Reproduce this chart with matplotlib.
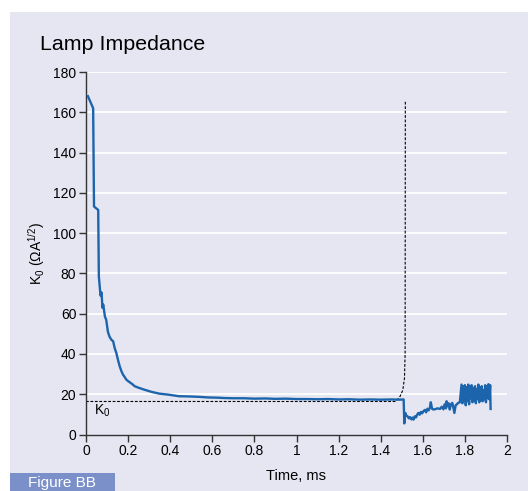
import matplotlib.pyplot as plt
from matplotlib.patches import Rectangle

plt.rcParams['font.family'] = ['Liberation Sans', 'DejaVu Sans']
plt.rcParams['mathtext.fontset'] = 'custom'
plt.rcParams['mathtext.rm'] = 'Liberation Sans'
plt.rcParams['mathtext.it'] = 'Liberation Sans'

# данные кривой (время, мс / K0)
t_main = [0.009, 0.034, 0.038, 0.058, 0.061, 0.069, 0.074, 0.078, 0.082, 0.090,
          0.096, 0.104, 0.112, 0.121, 0.129, 0.136, 0.144, 0.152, 0.160, 0.168,
          0.176, 0.184, 0.191, 0.200, 0.207, 0.220, 0.231, 0.250, 0.270, 0.285,
          0.310, 0.348, 0.390, 0.442, 0.490, 0.536, 0.580, 0.620, 0.660, 0.700,
          0.750, 0.800, 0.850, 0.900, 0.950, 1.000, 1.050, 1.100, 1.150, 1.200,
          1.250, 1.300, 1.350, 1.400, 1.450, 1.490, 1.506, 1.509,
          1.512, 1.517, 1.521, 1.528, 1.534, 1.540, 1.546, 1.552, 1.556, 1.562,
          1.568, 1.574, 1.579, 1.585, 1.591, 1.597, 1.603, 1.610, 1.616, 1.622,
          1.628, 1.634, 1.638, 1.644, 1.650, 1.660, 1.670, 1.682, 1.690, 1.698,
          1.704, 1.710, 1.713, 1.718, 1.723, 1.728, 1.734, 1.740, 1.744, 1.750,
          1.756, 1.762, 1.768, 1.776, 1.784, 1.788, 1.792, 1.796, 1.800, 1.804,
          1.808, 1.812, 1.816, 1.820, 1.824, 1.828, 1.832, 1.836, 1.840, 1.844,
          1.848, 1.852, 1.856, 1.860, 1.864, 1.868, 1.872, 1.876, 1.880, 1.884,
          1.888, 1.892, 1.896, 1.900, 1.904, 1.908, 1.912, 1.916, 1.920, 1.922]
k_main = [168.0, 162.0, 113.2, 111.5, 78.5, 69.0, 70.5, 63.0, 64.5, 58.5,
          57.0, 51.0, 48.5, 47.0, 46.3, 43.0, 40.5, 37.0, 33.9, 31.5,
          29.7, 28.5, 27.3, 26.5, 26.0, 25.0, 24.0, 23.2, 22.5, 22.0,
          21.2, 20.3, 19.8, 19.0, 18.9, 18.7, 18.4, 18.3, 18.1, 18.0,
          18.0, 17.8, 17.9, 17.7, 17.8, 17.6, 17.6, 17.5, 17.6, 17.4,
          17.5, 17.3, 17.4, 17.3, 17.4, 17.3, 17.4, 17.4,
          5.5, 10.7, 9.5, 9.0, 8.0, 8.6, 7.5, 8.4, 7.4, 9.0,
          8.5, 10.0, 10.7, 9.8, 11.2, 10.5, 11.6, 12.2, 11.0, 12.8,
          12.0, 13.5, 16.0, 12.8, 12.4, 12.6, 13.0, 12.7, 13.8, 12.5,
          15.0, 13.0, 16.5, 14.0, 15.5, 12.4, 15.0, 15.7, 14.0, 10.7,
          14.5, 15.0, 15.7, 16.0, 24.8, 15.5, 24.0, 17.0, 24.5, 14.5,
          23.5, 16.5, 24.8, 15.0, 24.0, 18.0, 24.5, 16.0, 23.0, 17.0,
          24.0, 15.5, 22.5, 17.5, 24.8, 16.0, 23.5, 17.0, 24.0, 16.5,
          22.0, 17.5, 24.5, 16.0, 24.0, 18.0, 25.0, 17.5, 24.5, 12.7]

# пунктир K0
t_k0 = [0.0, 1.470, 1.490, 1.505, 1.513, 1.516, 1.517]
k_k0 = [16.4, 16.4, 18.5, 22.0, 28.0, 40.0, 165.5]

fig = plt.figure(figsize=(5.28, 4.91), dpi=100)
fig.patch.set_facecolor('white')
fig.patches.append(Rectangle((10 / 528, 0), 1 - 10 / 528, 1 - 12 / 491,
                             transform=fig.transFigure, facecolor='#e6e6f2',
                             edgecolor='none', zorder=-10))
fig.patches.append(Rectangle((10 / 528, 0), 105 / 528, 18 / 491,
                             transform=fig.transFigure, facecolor='#7b90c8',
                             edgecolor='none', zorder=-9))
fig.text(62 / 528, 8 / 491, 'Figure BB', color='white', fontsize=11,
         ha='center', va='center')

ax = fig.add_axes([86 / 528, 1 - 434.5 / 491, (507 - 86) / 528, (434.5 - 72) / 491])
ax.set_facecolor('none')
ax.set_zorder(2)

for v in range(20, 181, 20):
    ax.axhline(v, color='white', lw=1.3, zorder=1)

ax.plot(t_k0, k_k0, color='black', lw=0.8, dashes=(2.5, 1.5), zorder=2)
ax.plot(t_main, k_main, color='#1c64ac', lw=1.7, zorder=3)

ax.set_xlim(0, 2)
ax.set_ylim(0, 180)
ax.set_xticks([0, 0.2, 0.4, 0.6, 0.8, 1, 1.2, 1.4, 1.6, 1.8, 2])
ax.set_xticklabels(['0', '0.2', '0.4', '0.6', '0.8', '1', '1.2', '1.4', '1.6', '1.8', '2'])
ax.set_yticks(range(0, 181, 20))

for s in ['top', 'right']:
    ax.spines[s].set_visible(False)
for s in ['left', 'bottom']:
    ax.spines[s].set_color('#333333')
    ax.spines[s].set_linewidth(1.0)
ax.tick_params(direction='out', length=5, width=1, color='#333333',
               labelsize=10, pad=2)

ax.text(0.037, 12, 'K$_0$', fontsize=10, ha='left', va='center')
ax.set_xlabel('Time, ms', fontsize=10.5, labelpad=8)
ax.set_ylabel('K$_0$ (ΩA$^{1/2}$)', fontsize=10, labelpad=4)

fig.text(40 / 528, 1 - 45 / 491, 'Lamp Impedance', fontsize=15.4,
         ha='left', va='center')

fig.savefig('out.png', dpi=100)
